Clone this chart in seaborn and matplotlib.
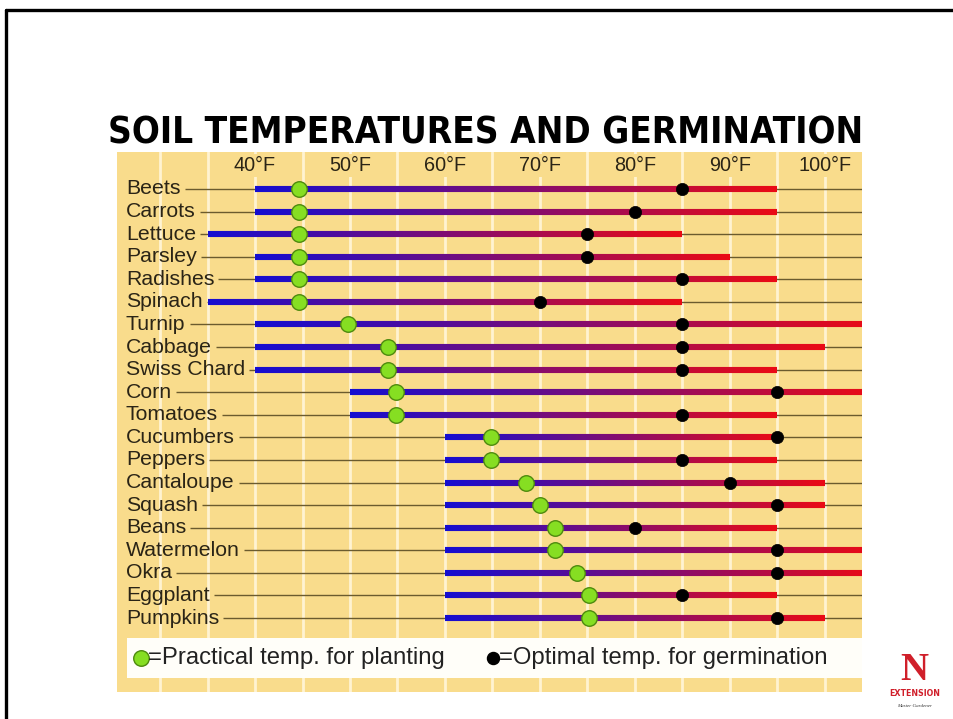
import numpy as np
import pandas as pd
import matplotlib
matplotlib.use("Agg")
import matplotlib.pyplot as plt
import matplotlib.transforms as mtransforms
from matplotlib.collections import LineCollection
from matplotlib.lines import Line2D
from matplotlib.patches import Rectangle
from matplotlib import font_manager as fm
import seaborn as sns

# ---------------- data ----------------
crops = ["Beets", "Carrots", "Lettuce", "Parsley", "Radishes", "Spinach", "Turnip",
         "Cabbage", "Swiss Chard", "Corn", "Tomatoes", "Cucumbers", "Peppers",
         "Cantaloupe", "Squash", "Beans", "Watermelon", "Okra", "Eggplant", "Pumpkins"]
min_temp = [40, 40, 35, 40, 40, 35, 40, 40, 40, 50, 50, 60, 60, 60, 60, 60, 60, 60, 60, 60]
max_temp = [95, 95, 85, 90, 95, 85, 105, 100, 95, 105, 95, 95, 95, 100, 100, 95, 105, 105, 95, 100]
practical_temp = [44.6, 44.6, 44.6, 44.6, 44.6, 44.6, 49.8, 54, 54, 54.8, 54.8, 64.8, 64.8,
                  68.5, 70, 71.6, 71.6, 73.9, 75.2, 75.2]
optimal_temp = [85, 80, 75, 75, 85, 70, 85, 85, 85, 95, 85, 95, 85, 90, 95, 80, 95, 95, 85, 95]
tick_temps = [40, 50, 60, 70, 80, 90, 100]
tick_labels = ["40°F", "50°F", "60°F", "70°F", "80°F", "90°F", "100°F"]
grid_temps = list(range(30, 101, 5))
legend_labels = ["=Practical temp. for planting", "=Optimal temp. for germination"]
title_text = "SOIL TEMPERATURES AND GERMINATION"

df = pd.DataFrame({"crop": crops, "row": np.arange(len(crops)), "tmin": min_temp,
                   "tmax": max_temp, "practical": practical_temp, "optimal": optimal_temp})

# ---------------- style ----------------
sns.set_theme(style="white")
plt.rcParams["font.family"] = ["Liberation Sans", "DejaVu Sans"]

YELLOW = "#F9DC8C"
GRID = "#FFF3D2"
LEADER = "#6B5B2E"
TEXT = "#2A2416"
BLUE = np.array([0.08, 0.05, 0.82])
RED = np.array([0.92, 0.04, 0.08])

W, H = 954, 719
fig = plt.figure(figsize=(W / 100, H / 100), dpi=100)
fig.patch.set_facecolor("white")

# chart area in pixels: x 117..862, y 152..692
ax = fig.add_axes([117 / W, (H - 692) / H, 745 / W, 540 / H])
ax.set_facecolor(YELLOW)
for s in ax.spines.values():
    s.set_visible(False)

px_per_deg = 9.5
x_left = 40 - (255 - 117) / px_per_deg
x_right = 40 + (862 - 255) / px_per_deg
row_px = 22.58
y_top = (152 - 189) / row_px
y_bot = (692 - 189) / row_px

# vertical grid lines
for t in grid_temps:
    ax.axvline(t, color=GRID, lw=2.0, zorder=1)

# gradient range bars
segs, cols = [], []
for _, r in df.iterrows():
    xs = np.linspace(r.tmin, r.tmax, 120)
    for k in range(len(xs) - 1):
        segs.append([(xs[k], r.row), (xs[k + 1], r.row)])
        f = (k + 0.5) / (len(xs) - 1)
        cols.append(tuple(BLUE * (1 - f) + RED * f))
lc = LineCollection(segs, colors=cols, linewidths=4.4, capstyle="butt", zorder=3)
ax.add_collection(lc)

# markers
sns.scatterplot(data=df, x="practical", y="row", ax=ax, s=125, color="#86DE22",
                edgecolor="#4E8A0E", linewidth=1.0, zorder=6, legend=False)
sns.scatterplot(data=df, x="optimal", y="row", ax=ax, s=78, color="black",
                edgecolor="black", linewidth=0.5, zorder=6, legend=False)

ax.set_xlim(x_left, x_right)
ax.set_ylim(y_bot, y_top)
ax.set_xticks([])
ax.set_yticks([])
ax.set_xlabel("")
ax.set_ylabel("")

# row labels
blend_ay = mtransforms.blended_transform_factory(ax.transAxes, ax.transData)
row_texts = []
for _, r in df.iterrows():
    t = ax.text((126 - 117) / 745, r.row, r.crop, transform=blend_ay, ha="left",
                va="center", fontsize=15.3, color=TEXT, zorder=5)
    row_texts.append(t)

# header labels
blend_xa = mtransforms.blended_transform_factory(ax.transData, ax.transAxes)
for t, lab in zip(tick_temps, tick_labels):
    ax.text(t, 1 - 13.5 / 540, lab, transform=blend_xa, ha="center", va="center",
            fontsize=14.3, color=TEXT, zorder=5,
            bbox=dict(boxstyle="square,pad=0.12", fc=YELLOW, ec="none"))

# legend strip
lx0 = (127 - 117) / 745
ax.add_patch(Rectangle((lx0, (692 - 678) / 540), 1 - lx0, 40 / 540,
                       transform=ax.transAxes, fc="#FFFEF9", ec="none", zorder=4))
ax.scatter([(141 - 117) / 745], [(692 - 658) / 540], transform=ax.transAxes, s=125,
           c="#86DE22", edgecolors="#4E8A0E", linewidths=1.0, zorder=6)
ax.scatter([(493 - 117) / 745], [(692 - 658) / 540], transform=ax.transAxes, s=75,
           c="black", zorder=6)
ax.text((148 - 117) / 745, (692 - 658) / 540, legend_labels[0], transform=ax.transAxes,
        ha="left", va="center", fontsize=17.2, color="#222222", zorder=6)
ax.text((499 - 117) / 745, (692 - 658) / 540, legend_labels[1], transform=ax.transAxes,
        ha="left", va="center", fontsize=17.2, color="#222222", zorder=6)

# title font choice
names = {f.name for f in fm.fontManager.ttflist}
title_kw = dict(family=["DejaVu Sans"], weight="bold")
if "Liberation Sans Narrow" in names:
    title_kw = dict(family=["Liberation Sans Narrow"], weight="bold")
elif any(f.name == "DejaVu Sans" and f.stretch == "condensed" for f in fm.fontManager.ttflist):
    title_kw = dict(family=["DejaVu Sans"], weight="bold", stretch="condensed")

title = fig.text(108 / W, 1 - 114 / H, title_text, ha="left", va="top",
                 fontsize=40, color="black", zorder=-1, **title_kw)

# logo
fig.text(914 / W, 1 - 670 / H, "N", ha="center", va="center", fontsize=28,
         family=["Liberation Serif", "DejaVu Serif"], weight="bold", color="#D01F2A")
logo2 = fig.text(914.5 / W, 1 - 694 / H, "EXTENSION", ha="center", va="center",
                 fontsize=9, color="#D01F2A", **title_kw)
fig.text(914.5 / W, 1 - 706 / H, "Master Gardener", ha="center", va="center",
         fontsize=3.6, family=["Liberation Serif", "DejaVu Serif"], style="italic",
         color="#333333")

# slide border
fig.add_artist(Line2D([6 / W, 6 / W], [0, 1 - 10 / H], transform=fig.transFigure,
                      color="black", lw=2.4))
fig.add_artist(Line2D([6 / W, 1], [1 - 10 / H, 1 - 10 / H], transform=fig.transFigure,
                      color="black", lw=2.4))

# fit title and logo widths, then leader lines from label end
fig.canvas.draw()
renderer = fig.canvas.get_renderer()
for _ in range(2):
    w = title.get_window_extent(renderer).width
    title.set_fontsize(title.get_fontsize() * 754 / w)
    w2 = logo2.get_window_extent(renderer).width
    logo2.set_fontsize(logo2.get_fontsize() * 51 / w2)
    fig.canvas.draw()

inv = ax.transData.inverted()
starts = []
for t in row_texts:
    bb = t.get_window_extent(renderer)
    starts.append(inv.transform((bb.x1 + 4, bb.y0))[0])
ax.hlines(df["row"], starts, x_right, color=LEADER, lw=1.0, zorder=2)

fig.savefig("out.png", dpi=100)
